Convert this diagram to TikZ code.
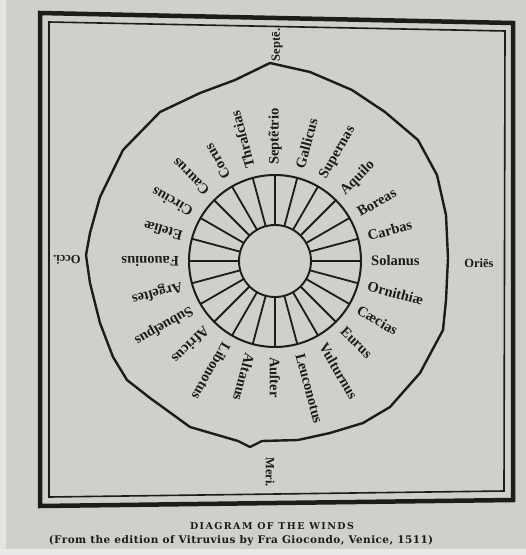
\documentclass[tikz,border=0pt]{standalone}
\usepackage{fontspec}
\newfontfamily\woodcut{Liberation Serif}
\newfontfamily\printed{DejaVu Serif}
\definecolor{page}{RGB}{207,207,204}
\definecolor{ink}{RGB}{30,27,27}
\begin{document}
\begin{tikzpicture}[x  = {(1pt,0pt)},
  y  = {(0pt,-1pt)},
  wind/.style    = {anchor=west, inner sep=0pt, text=ink,
                    font=\woodcut\bfseries\fontsize{14.5}{15}\selectfont},
  quarter/.style = {inner sep=0pt, text=ink,
                    font=\woodcut\bfseries\fontsize{12.5}{13}\selectfont}]

  % page
  \fill[page] (0,0) rectangle (526,555);
  \fill[page!55!white] (0,0) rectangle (6,555);
  \fill[page!45!white] (0,549) rectangle (526,555);
  \useasboundingbox (0,0) rectangle (526,555);

  \def\cx{275}
  \def\cy{261}
  \def\rin{36}
  \def\rout{86}
  \def\rtxt{96}

  % frame
  \draw[ink, line width=4.5] (40,13) -- (513,23) -- (513,500) -- (40,506) -- cycle;
  \draw[ink, line width=1.6] (49,22) -- (505,31) -- (504,491) -- (49,497) -- cycle;

  % outline round the names
  \draw[ink, line width=2.4, line join=round]
  (270,63) -- (310,72) -- (352,90) -- (385,112) -- (418,140) -- (437,175)
  -- (446,215) -- (448,258) -- (446,300) -- (443,330) -- (420,373)
  -- (390,407) -- (363,423) -- (330,433) -- (298,440) -- (262,441)
  -- (250,447) -- (238,441) -- (190,427) -- (150,398) -- (127,380)
  -- (113,357) -- (100,323) -- (90,283) -- (86,255) -- (90,233)
  -- (100,197) -- (123,150) -- (160,112) -- (200,93) -- (235,80) -- cycle;

  % wheel
  \draw[ink, line width=2] (\cx,\cy) circle (\rout);
  \draw[ink, line width=1.9] (\cx,\cy) circle (\rin);
  \foreach \a in {0,15,...,345}
  \draw[ink, line width=1.8] ({\cx+\rin*cos(\a)},{\cy-\rin*sin(\a)})
  -- ({\cx+\rout*cos(\a)},{\cy-\rout*sin(\a)});

  % winds
  \foreach \n [count=\i from 0] in {Solanus,Carbas,Boreas,Aquilo,Supernas,
    Gallicus,Sept\~{e}trio,Thraſcias,Corus,Caurus,Circius,Eteſi\ae,
    Fauonius,Argeſtes,Subueſpus,Africus,Libonotus,Altanus,Auſter,
    Leuconotus,Vulturnus,Eurus,C\ae cias,Ornithi\ae}
  \node[wind, rotate=15*\i] (w\i)
  at ({\cx+\rtxt*cos(15*\i)},{\cy-\rtxt*sin(15*\i)}) {\n};

  % quarters
  \node[quarter, rotate=90]  (septe) at (277,45)  {Sept\={e}.};
  \node[quarter]             (ories) at (479,263) {Ori\={e}s};
  \node[quarter, rotate=180] (occi)  at (67,260)  {Occi.};
  \node[quarter, rotate=270] (meri)  at (270,472) {Meri.};

  % caption
  \node[text=ink, font=\printed\bfseries\fontsize{9.5}{10}\selectfont\addfontfeatures{LetterSpace=15}]
  (title) at (272,526) {DIAGRAM OF THE WINDS};
  \node[text=ink, font=\printed\bfseries\fontsize{10.5}{11}\selectfont\addfontfeatures{LetterSpace=4}]
  (source) at (241,541) {(From the edition of Vitruvius by Fra Giocondo, Venice, 1511)};
\end{tikzpicture}
\end{document}
